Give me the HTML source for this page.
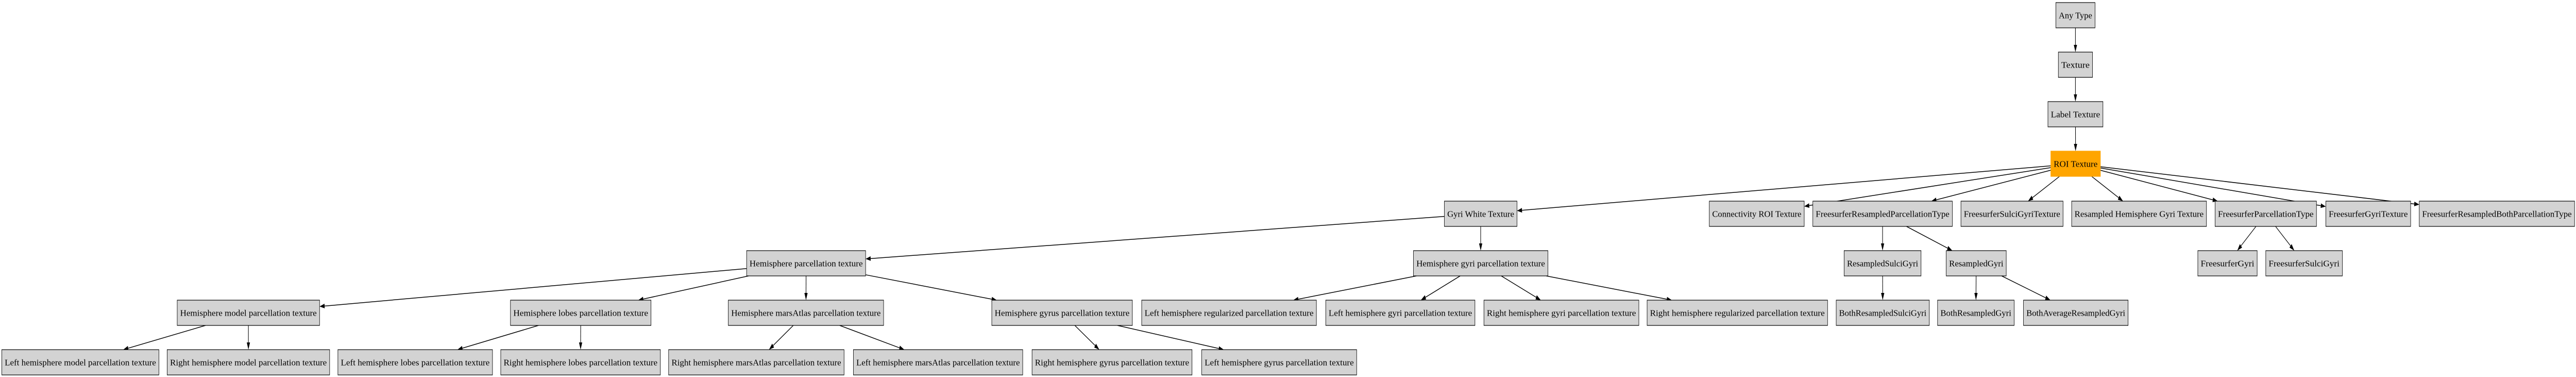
<!DOCTYPE html>
<html><head><meta charset="utf-8">
<style>html,body{margin:0;padding:0;background:#fff;width:100%;height:100%;overflow:hidden;}svg{display:block;position:fixed;left:0;top:0;width:100vw;height:100vh;}</style>
</head><body>
<svg id="s" xmlns="http://www.w3.org/2000/svg" viewBox="0 0 7166 731" preserveAspectRatio="none">
<rect width="7166" height="731" fill="#fff"/>
</svg>
<script>
var R=[5,101,197,293,390,486,582,678],H=49;
var N={
at:[0,5719,5828,"Any Type"],
tx:[1,5726,5821,"Texture"],
lt:[2,5697,5850,"Label Texture"],
roi:[3,5705,5843,"ROI Texture"],
gw:[4,4018,4220,"Gyri White Texture"],
cr:[4,4755,5019,"Connectivity ROI Texture"],
frpt:[4,5043,5431,"FreesurferResampledParcellationType"],
fsgt:[4,5455,5739,"FreesurferSulciGyriTexture"],
rhgt:[4,5763,6138,"Resampled Hemisphere Gyri Texture"],
fpt:[4,6162,6444,"FreesurferParcellationType"],
fgt:[4,6470,6706,"FreesurferGyriTexture"],
frbpt:[4,6730,7162,"FreesurferResampledBothParcellationType"],
hp:[5,2077,2408,"Hemisphere parcellation texture"],
hg:[5,3932,4306,"Hemisphere gyri parcellation texture"],
rsg:[5,5130,5344,"ResampledSulciGyri"],
rg:[5,5414,5581,"ResampledGyri"],
fg:[5,6114,6279,"FreesurferGyri"],
fsg:[5,6303,6516,"FreesurferSulciGyri"],
hm:[6,493,889,"Hemisphere model parcellation texture"],
hl:[6,1420,1811,"Hemisphere lobes parcellation texture"],
hma:[6,2026,2458,"Hemisphere marsAtlas parcellation texture"],
hgy:[6,2759,3150,"Hemisphere gyrus parcellation texture"],
lrg:[6,3176,3662,"Left hemisphere regularized parcellation texture"],
lgy:[6,3688,4103,"Left hemisphere gyri parcellation texture"],
rgy:[6,4128,4559,"Right hemisphere gyri parcellation texture"],
rrg:[6,4582,5084,"Right hemisphere regularized parcellation texture"],
brsg:[6,5108,5367,"BothResampledSulciGyri"],
brg:[6,5390,5603,"BothResampledGyri"],
barg:[6,5629,5920,"BothAverageResampledGyri"],
lm:[7,5,442,"Left hemisphere model parcellation texture"],
rm:[7,465,917,"Right hemisphere model parcellation texture"],
ll:[7,940,1370,"Left hemisphere lobes parcellation texture"],
rl:[7,1393,1837,"Right hemisphere lobes parcellation texture"],
rma:[7,1860,2348,"Right hemisphere marsAtlas parcellation texture"],
lma:[7,2374,2845,"Left hemisphere marsAtlas parcellation texture"],
rgu:[7,2871,3316,"Right hemisphere gyrus parcellation texture"],
lgu:[7,3343,3774,"Left hemisphere gyrus parcellation texture"]
};
var E=[["at","tx"],["tx","lt"],["lt","roi"],
["roi","gw"],["roi","cr"],["roi","frpt"],["roi","fsgt"],["roi","rhgt"],["roi","fpt"],["roi","fgt"],["roi","frbpt"],
["gw","hp"],["gw","hg"],
["hp","hm"],["hp","hl"],["hp","hma"],["hp","hgy"],
["hg","lrg"],["hg","lgy"],["hg","rgy"],["hg","rrg"],
["frpt","rsg"],["frpt","rg"],["rsg","brsg"],["rg","brg"],["rg","barg"],
["fpt","fg"],["fpt","fsg"],
["hm","lm"],["hm","rm"],["hl","ll"],["hl","rl"],["hma","rma"],["hma","lma"],["hgy","rgu"],["hgy","lgu"]];
var s=document.getElementById("s"),out="";
function box(k){var n=N[k];return{x1:n[1],x2:n[2],y1:R[n[0]],y2:R[n[0]]+H,cx:(n[1]+n[2])/2,cy:R[n[0]]+H/2};}
function clip(b,dx,dy){var tx=dx?((dx>0?b.x2:b.x1)-b.cx)/dx:1e9,ty=dy?((dy>0?b.y2:b.y1)-b.cy)/dy:1e9;var t=Math.min(Math.abs(tx),Math.abs(ty));return[b.cx+dx*t,b.cy+dy*t];}
E.forEach(function(e){var a=box(e[0]),b=box(e[1]);var dx=b.cx-a.cx,dy=b.cy-a.cy;
var p=clip(a,dx,dy),q=clip(b,-dx,-dy);var L=Math.hypot(q[0]-p[0],q[1]-p[1]),ux=(q[0]-p[0])/L,uy=(q[1]-p[1])/L;
var bx=q[0]-ux*14,by=q[1]-uy*14,px=-uy*4.5,py=ux*4.5;
out+='<line x1="'+p[0]+'" y1="'+p[1]+'" x2="'+bx+'" y2="'+by+'" stroke="#000" stroke-width="1.5"/>';
out+='<polygon points="'+q[0]+','+q[1]+' '+(bx+px)+','+(by+py)+' '+(bx-px)+','+(by-py)+'" fill="#000"/>';});
for(var k in N){var b=box(k),n=N[k],roi=k=="roi";
out+='<rect x="'+b.x1+'" y="'+b.y1+'" width="'+(b.x2-b.x1)+'" height="'+H+'" fill="'+(roi?'#ffa500':'#d3d3d3')+'" stroke="'+(roi?'#ffa500':'#000')+'" stroke-width="1.2"/>';
out+='<text x="'+b.cx+'" y="'+(b.cy+6)+'" text-anchor="middle" font-family="Liberation Serif, serif" font-size="17" textLength="'+(b.x2-b.x1-16)+'" lengthAdjust="spacingAndGlyphs">'+n[3]+'</text>';}
s.insertAdjacentHTML("beforeend",out);
</script>
</body></html>
